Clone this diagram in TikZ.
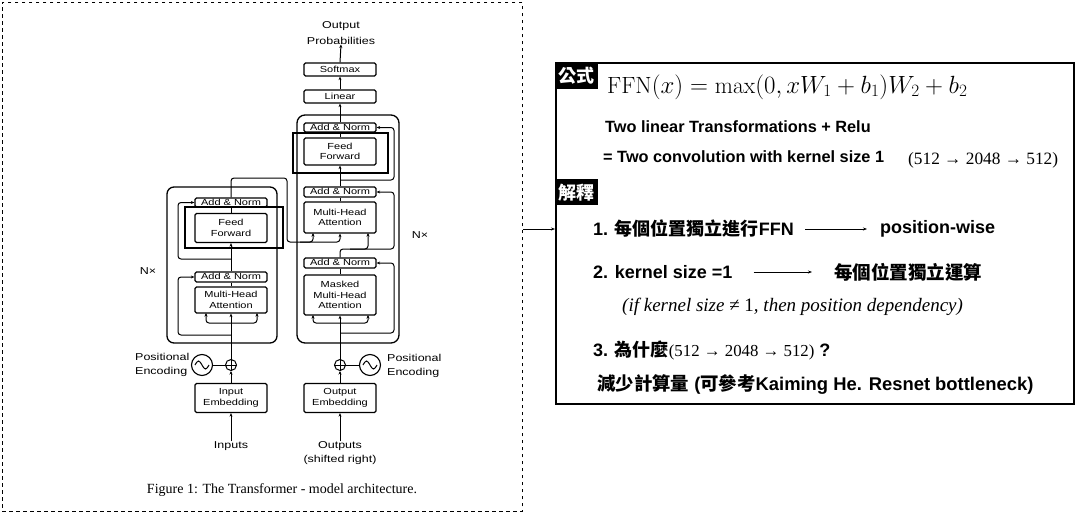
\documentclass[tikz,border=0pt]{standalone}
\usepackage{fontspec}
\newfontfamily\sansw{Liberation Sans}[FakeStretch=1.25]
\newfontfamily\sans{Liberation Sans}
\newfontfamily\tnr{Liberation Serif}
\newfontfamily\cjk{Noto Sans CJK TC}
\usetikzlibrary{arrows.meta,calc}
\begin{document}
\begin{tikzpicture}[x=1pt,y=-1pt,
  blk/.style={draw,line width=1.3pt,rounded corners=1.5pt,minimum width=72pt,inner sep=0pt,
    font=\sansw\fontsize{8.8}{10.5}\selectfont,align=center},
  an/.style={draw,line width=1.3pt,rounded corners=1.5pt,minimum width=72pt,inner sep=0pt,
    font=\sansw\fontsize{8.8}{10}\selectfont,text height=6.3pt,text depth=0.5pt},
  ln/.style={line width=1pt},
  arr/.style={ln,-{Stealth[length=3.5pt,width=3pt]}},
  rarr/.style={ln,rounded corners=3pt,-{Stealth[length=3.5pt,width=3pt]}},
  lbl/.style={font=\sansw\fontsize{10}{14}\selectfont,align=center,inner sep=0pt},
  outer/.style={draw,line width=1.3pt,rounded corners=7pt,inner sep=0pt},
  hl/.style={draw,line width=1.1pt,inner sep=0pt},
  ptxt/.style={anchor=west,inner sep=0pt},
  parr/.style={line width=0.8pt,-{Stealth[length=4pt,width=3pt]}},
  badge/.style={fill=black,text=white,font=\cjk\bfseries\fontsize{18}{18}\selectfont,inner sep=0pt,minimum width=43pt,minimum height=27pt,anchor=north west}
]
\useasboundingbox (0,0) rectangle (1080,514);

% ---------- frames ----------
\node[draw,line width=0.9pt,dash pattern=on 3.5pt off 3.5pt,minimum width=520pt,minimum height=509pt,anchor=north west,inner sep=0pt] (fig) at (2,2) {};
\node[draw,line width=1.5pt,minimum width=518pt,minimum height=341pt,anchor=north west,inner sep=0pt] (panel) at (555,62) {};
\draw[parr] (fig.east |- 0,229) -- (panel.west |- 0,229);

% ---------- encoder ----------
\node[outer,minimum width=110pt,minimum height=156pt] (encBox) at (222,265) {};
\node[hl,minimum width=98pt,minimum height=41pt] (encHL) at (234,227.5) {};
\node[an,minimum height=9pt] (encAN2) at (231,202.5) {Add \& Norm};
\node[blk,minimum height=29pt] (encFF) at (231,228) {Feed\\Forward};
\node[an,minimum height=10pt] (encAN1) at (231,277) {Add \& Norm};
\node[blk,minimum height=26pt] (encMHA) at (231,300) {Multi-Head\\Attention};
\node[lbl] (encNx) at (148,271) {N×};

% ---------- decoder ----------
\node[outer,rounded corners=8pt,minimum width=102pt,minimum height=228pt] (decBox) at (348,229) {};
\node[hl,minimum width=95pt,minimum height=40pt] (decHL) at (340.5,153) {};
\node[an,minimum height=13pt] (softmax) at (340,69.5) {Softmax};
\node[an,minimum height=13pt] (linear) at (340,96.5) {Linear};
\node[an,minimum height=9pt] (decAN3) at (340,127.5) {Add \& Norm};
\node[blk,minimum height=27pt] (decFF) at (340,151.5) {Feed\\Forward};
\node[an,minimum height=10pt] (decAN2) at (340,192) {Add \& Norm};
\node[blk,minimum height=31pt] (decMHA) at (340,217.5) {Multi-Head\\Attention};
\node[an,minimum height=10pt] (decAN1) at (340,263) {Add \& Norm};
\node[blk,minimum height=40pt] (decMMHA) at (340,295) {Masked\\Multi-Head\\Attention};
\node[lbl] (decNx) at (420,235) {N×};
\node[lbl,font=\sansw\fontsize{10}{15.5}\selectfont] (outprob) at (341,33) {Output\\Probabilities};

% ---------- bottom ----------
\node[blk,minimum height=29pt] (encEmb) at (231,398) {Input\\Embedding};
\node[blk,minimum height=29pt] (decEmb) at (340,398) {Output\\Embedding};
\node[circle,draw,line width=1pt,minimum size=11pt,inner sep=0pt] (encPlus) at (231,365) {};
\node[circle,draw,line width=1pt,minimum size=11pt,inner sep=0pt] (decPlus) at (340,365) {};
\draw[ln] (encPlus.north) -- (encPlus.south) (encPlus.west) -- (encPlus.east);
\draw[ln] (decPlus.north) -- (decPlus.south) (decPlus.west) -- (decPlus.east);
\node[circle,draw,line width=1.1pt,minimum size=21pt,inner sep=0pt] (encSin) at (202,365) {};
\node[circle,draw,line width=1.1pt,minimum size=21pt,inner sep=0pt] (decSin) at (370,365) {};
\draw[ln] ($(encSin.center)+(-7,0)$) sin ++(3.5,-4) cos ++(3.5,4) sin ++(3.5,4) cos ++(3.5,-4);
\draw[ln] ($(decSin.center)+(-7,0)$) sin ++(3.5,-4) cos ++(3.5,4) sin ++(3.5,4) cos ++(3.5,-4);
\node[lbl,align=left,anchor=west] (encPE) at (135,365) {Positional\\Encoding};
\node[lbl,align=left,anchor=west] (decPE) at (387,366) {Positional\\Encoding};
\node[lbl] (inputs) at (231,446) {Inputs};
\node[lbl] (outputs) at (340,453) {Outputs\\(shifted right)};
\node[font=\tnr\fontsize{14}{16}\selectfont,inner sep=0pt] (caption) at (282,490) {Figure 1: The Transformer - model architecture.};

% ---------- encoder connections ----------
\draw[arr] (inputs.north) -- (encEmb.south);
\draw[arr] (encEmb.north) -- (encPlus.south);
\draw[ln] (encSin.east) -- (encPlus.west);
\draw[arr] (encPlus.north) -- (encMHA.south);
\draw[rarr] (231,323) -| (206,313);
\draw[rarr] (231,323) -| (257,313);
\draw[rarr] (231,335) -| (178,277) -- (encAN1.west);
\draw[ln] (encMHA.north) -- (encAN1.south);
\draw[arr] (encAN1.north) -- (encFF.south);
\draw[rarr] (231,259) -| (178,202.5) -- (encAN2.west);
\draw[ln] (encFF.north) -- (encAN2.south);
\draw[rarr] (encAN2.north) |- (287,178) |- (340,242) -- (decMHA.south);
\draw[rarr] (300,242) -| (313,233);

% ---------- decoder connections ----------
\draw[arr] (outputs.north) -- (decEmb.south);
\draw[arr] (decEmb.north) -- (decPlus.south);
\draw[ln] (decSin.west) -- (decPlus.east);
\draw[arr] (decPlus.north) -- (decMMHA.south);
\draw[rarr] (340,323) -| (313,315);
\draw[rarr] (340,323) -| (368,315);
\draw[rarr] (340,333) -| (394,263) -- (decAN1.east);
\draw[ln] (decMMHA.north) -- (decAN1.south);
\draw[rarr] (decAN1.north) |- (368,249) -- (368,233);
\draw[rarr] (350,249) -| (394,192) -- (decAN2.east);
\draw[ln] (decMHA.north) -- (decAN2.south);
\draw[arr] (decAN2.north) -- (decFF.south);
\draw[rarr] (340,180) -| (394,127.5) -- (decAN3.east);
\draw[ln] (decFF.north) -- (decAN3.south);
\draw[arr] (decAN3.north) -- (linear.south);
\draw[arr] (linear.north) -- (softmax.south);
\draw[arr] (softmax.north) -- (outprob.south);

% ---------- right panel ----------
\node[badge] (b1) at (555,62) {公式};
\node[badge,minimum height=26pt] (b2) at (555,179) {解釋};
\node[ptxt] (ffn) at (607,87) {\fontsize{23.5}{27}\selectfont $\mathrm{FFN}(x)=\max(0,xW_1+b_1)W_2+b_2$};
\node[ptxt,font=\sans\bfseries\fontsize{16.3}{18}\selectfont] (two) at (605,127) {Two linear Transformations + Relu};
\node[ptxt,font=\sans\bfseries\fontsize{16.3}{18}\selectfont] (conv) at (603,157) {= Two convolution with kernel size 1};
\node[ptxt,font=\tnr\fontsize{17.3}{19}\selectfont] (dims) at (908,160) {(512 → 2048 → 512)};
\node[ptxt,font=\sans\bfseries\fontsize{18}{20}\selectfont] (i1) at (593,229) {1. {\cjk\bfseries 每個位置獨立進行}FFN};
\node[ptxt,font=\sans\bfseries\fontsize{18}{20}\selectfont] (pw) at (880,229) {position-wise};
\draw[parr,shorten <=11pt,shorten >=13pt] (i1.east) -- (pw.west);
\node[ptxt,font=\sans\bfseries\fontsize{18}{20}\selectfont] (i2) at (593,272) {2. kernel size =1};
\node[ptxt,font=\cjk\bfseries\fontsize{18.5}{20}\selectfont] (ind) at (834,272) {每個位置獨立運算};
\draw[parr,shorten <=21pt,shorten >=22pt] (i2.east) -- (ind.west);
\node[ptxt,font=\tnr\itshape\fontsize{19}{21}\selectfont] (ifk) at (622,307) {(if kernel size {\upshape ≠ 1}, then position dependency)};
\node[ptxt,font=\sans\bfseries\fontsize{18}{20}\selectfont] (i3) at (593,350) {3. {\cjk\bfseries 為什麼}{\tnr\mdseries\fontsize{16.8}{18}\selectfont(512 → 2048 → 512)} ?};
\node[ptxt,font=\sans\bfseries\fontsize{18.4}{20}\selectfont] (i4) at (597,384) {{\cjk\bfseries 減少計算量} ({\cjk\bfseries 可參考}Kaiming He. Resnet bottleneck)};
\end{tikzpicture}
\end{document}
